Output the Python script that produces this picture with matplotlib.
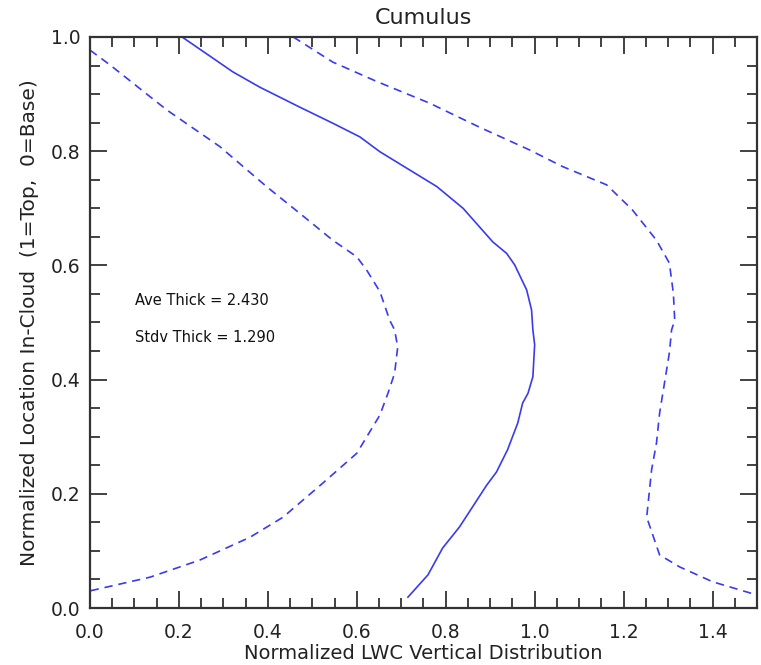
import matplotlib
matplotlib.use("Agg")
import matplotlib.pyplot as plt
from matplotlib.ticker import MultipleLocator, FormatStrFormatter

# Mean profile (solid)
mean_x = [0.207, 0.321, 0.382, 0.472, 0.546, 0.607, 0.652, 0.780, 0.839, 0.906, 0.937,
          0.955, 0.982, 0.993, 0.996, 1.000, 0.996, 0.985, 0.973, 0.962, 0.939, 0.914,
          0.892, 0.831, 0.793, 0.760, 0.715]
mean_y = [1.000, 0.939, 0.912, 0.877, 0.849, 0.825, 0.799, 0.738, 0.700, 0.641, 0.621,
          0.601, 0.557, 0.522, 0.487, 0.461, 0.405, 0.376, 0.359, 0.324, 0.277, 0.238,
          0.215, 0.142, 0.105, 0.058, 0.019]

# Mean - stdv (dashed, left)
low_x = [0.000, 0.045, 0.173, 0.292, 0.397, 0.472, 0.546, 0.600, 0.622, 0.652, 0.674,
         0.685, 0.692, 0.685, 0.670, 0.652, 0.600, 0.524, 0.434, 0.360, 0.247, 0.135, 0.000]
low_y = [0.977, 0.951, 0.872, 0.808, 0.738, 0.691, 0.644, 0.615, 0.592, 0.554, 0.504,
         0.487, 0.457, 0.411, 0.376, 0.338, 0.271, 0.219, 0.159, 0.124, 0.084, 0.054, 0.030]

# Mean + stdv (dashed, right)
high_x = [0.457, 0.546, 0.645, 0.764, 0.876, 0.989, 1.063, 1.162, 1.220, 1.274, 1.303,
          1.312, 1.315, 1.308, 1.303, 1.292, 1.281, 1.274, 1.263, 1.252, 1.281, 1.326,
          1.400, 1.499]
high_y = [1.000, 0.956, 0.922, 0.884, 0.842, 0.802, 0.773, 0.741, 0.697, 0.644, 0.604,
          0.551, 0.504, 0.487, 0.447, 0.394, 0.341, 0.289, 0.242, 0.159, 0.093, 0.072,
          0.046, 0.023]

ave_text = "Ave Thick = 2.430"
std_text = "Stdv Thick = 1.290"

plt.rcParams['font.family'] = ['DejaVu Sans']
fig = plt.figure(figsize=(7.61, 6.65), dpi=100)
ax = fig.add_axes([0.1183, 0.0857, 0.8764, 0.8587])

col = '#3a3af0'
ax.plot(mean_x, mean_y, color=col, lw=1.2)
ax.plot(low_x, low_y, color=col, lw=1.2, dashes=(5, 3.5))
ax.plot(high_x, high_y, color=col, lw=1.2, dashes=(5, 3.5))

ax.set_xlim(0, 1.5)
ax.set_ylim(0, 1.0)
ax.xaxis.set_major_locator(MultipleLocator(0.2))
ax.xaxis.set_minor_locator(MultipleLocator(0.05))
ax.yaxis.set_major_locator(MultipleLocator(0.2))
ax.yaxis.set_minor_locator(MultipleLocator(0.05))
ax.xaxis.set_major_formatter(FormatStrFormatter('%.1f'))
ax.yaxis.set_major_formatter(FormatStrFormatter('%.1f'))

tc = '#333333'
ax.tick_params(which='both', direction='in', top=True, right=True, colors=tc,
               labelsize=13.5, labelcolor='#222222', width=1.3)
ax.tick_params(which='major', length=12)
ax.tick_params(axis='x', which='major', pad=11)
ax.tick_params(axis='y', which='major', pad=7)
ax.tick_params(which='minor', length=7)
for s in ax.spines.values():
    s.set_color(tc)
    s.set_linewidth(1.6)

ax.set_title("Cumulus", fontsize=16, color='#222222', pad=9)
ax.set_xlabel("Normalized LWC Vertical Distribution", fontsize=14, color='#222222', labelpad=1)
ax.set_ylabel("Normalized Location In-Cloud  (1=Top,  0=Base)", fontsize=14.5,
              color='#222222', labelpad=8)

ax.text(0.101, 0.539, ave_text, fontsize=10.5, color='#111111', va='center', ha='left')
ax.text(0.101, 0.473, std_text, fontsize=10.5, color='#111111', va='center', ha='left')

fig.savefig("out.png", dpi=100)
